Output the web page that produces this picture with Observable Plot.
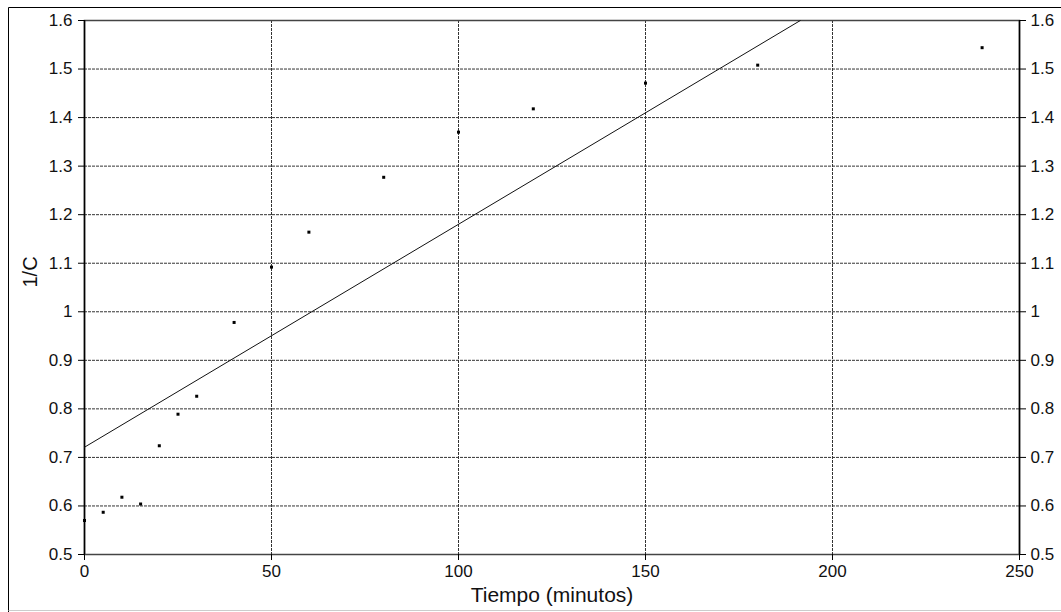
<!DOCTYPE html>
<html>
<head>
<meta charset="utf-8">
<script src="https://cdn.jsdelivr.net/npm/d3@7"></script>
<script src="https://cdn.jsdelivr.net/npm/@observablehq/plot@0.6"></script>
<style>
  html, body { margin: 0; padding: 0; background: #fff; }
  #chart svg { display: block; }
</style>
</head>
<body>
<div id="chart"></div>
<script>
// Data
const tiempo = [0, 5, 10, 15, 20, 25, 30, 40, 50, 60, 80, 100, 120, 150, 180, 240];
const invC   = [0.570, 0.587, 0.618, 0.604, 0.724, 0.789, 0.826, 0.978, 1.092, 1.164, 1.277, 1.370, 1.418, 1.471, 1.508, 1.544];

// Fitted straight line (endpoints)
const lineT = [0, 191.4];
const lineY = [0.721, 1.6];

const xTicks = [0, 50, 100, 150, 200, 250];
const yTicks = [0.5, 0.6, 0.7, 0.8, 0.9, 1.0, 1.1, 1.2, 1.3, 1.4, 1.5, 1.6];
const xGrid = [50, 100, 150, 200];
const yGrid = [0.6, 0.7, 0.8, 0.9, 1.0, 1.1, 1.2, 1.3, 1.4, 1.5];

const xLabel = "Tiempo (minutos)";
const yLabel = "1/C";

const points = tiempo.map((t, i) => ({t, v: invC[i]}));
const fit = lineT.map((t, i) => ({t, v: lineY[i]}));

const fmt = d => String(Math.round(d * 10) / 10);
const font = "Liberation Sans, Arial, sans-serif";

const chart = Plot.plot({
  width: 1061,
  height: 612,
  marginLeft: 84,
  marginRight: 42,
  marginTop: 20,
  marginBottom: 58,
  style: {fontFamily: font, background: "#fff", color: "#111"},
  x: {domain: [0, 250], axis: null},
  y: {domain: [0.5, 1.6], axis: null},
  marks: [
    Plot.gridX(xGrid, {stroke: "#333", strokeOpacity: 1, strokeDasharray: "3,1"}),
    Plot.gridY(yGrid, {stroke: "#333", strokeOpacity: 1, strokeDasharray: "3,1"}),
    Plot.frame({stroke: "#444", strokeWidth: 1.5}),
    Plot.ruleX([0, 250], {stroke: "#000", strokeWidth: 1.5}),
    Plot.axisX({ticks: xTicks, tickSize: 6, tickPadding: 4, tickFormat: d => String(d), fontSize: 17, label: null, stroke: "#000"}),
    Plot.axisY({anchor: "left", ticks: yTicks, tickSize: 6, tickPadding: 6, tickFormat: fmt, fontSize: 17, label: null, stroke: "#000"}),
    Plot.axisY({anchor: "right", ticks: yTicks, tickSize: 6, tickPadding: 5, tickFormat: fmt, fontSize: 17, label: null, stroke: "#000"}),
    Plot.line(fit, {x: "t", y: "v", stroke: "#111", strokeWidth: 1, clip: true}),
    Plot.dot(points, {x: "t", y: "v", symbol: "square", r: 1.7, fill: "#000", stroke: "none"}),
    Plot.text([xLabel], {frameAnchor: "bottom", text: d => d, dy: 41, fontSize: 21, fill: "#111", lineAnchor: "middle"}),
    Plot.text([yLabel], {frameAnchor: "left", text: d => d, dx: -54, rotate: -90, fontSize: 20, fill: "#111", lineAnchor: "middle"})
  ]
});

// Outer border of the picture
const svg = d3.select(chart);
svg.append("line").attr("x1", 8.5).attr("x2", 1061).attr("y1", 7.5).attr("y2", 7.5).attr("stroke", "#000");
svg.append("line").attr("x1", 8.5).attr("x2", 8.5).attr("y1", 7.5).attr("y2", 612).attr("stroke", "#000");
svg.append("line").attr("x1", 8.5).attr("x2", 1061).attr("y1", 610.5).attr("y2", 610.5).attr("stroke", "#ccc");

document.getElementById("chart").appendChild(chart);
</script>
</body>
</html>
